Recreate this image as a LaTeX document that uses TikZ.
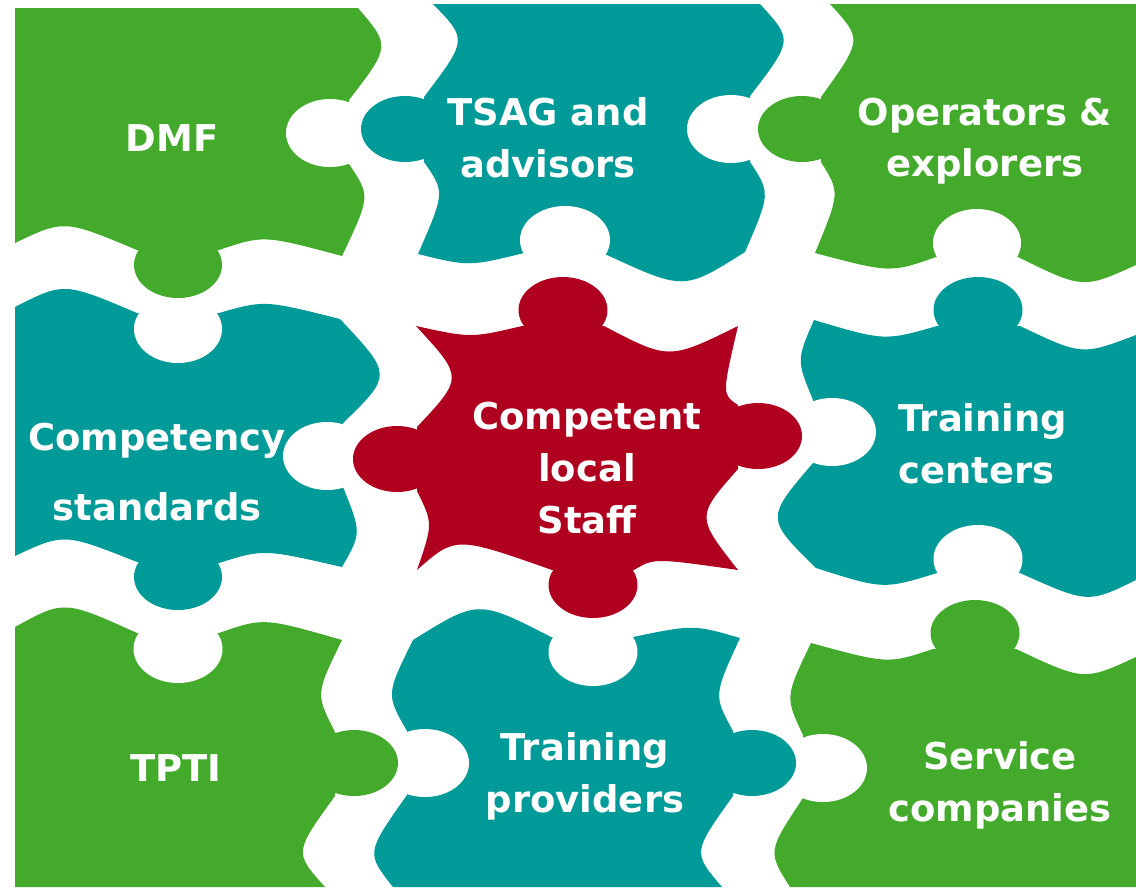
\documentclass[tikz,border=0pt]{standalone}
\usepackage{fontspec}
\setmainfont{DejaVu Sans}
\definecolor{gr}{HTML}{43AA2B}
\definecolor{tl}{HTML}{009A98}
\definecolor{re}{HTML}{B00020}
\begin{document}
\begin{tikzpicture}[x=0.01cm, y=-0.01cm,
  hole/.style={fill=white},
  lbl/.style={text=white, font=\bfseries\fontsize{10.5}{14.7}\selectfont, align=center, inner sep=0pt}]

  \fill[white] (0,0) rectangle (1136,887);
  \useasboundingbox (0,0) rectangle (1136,887);

  % top row
  \fill[gr] (15,8) -- (358,8) .. controls (390.5,46) .. (349,100) -- (349,164)
    .. controls (370.5,196) .. (342,256) .. controls (263.5,235) .. (219,250) -- (137,250)
    .. controls (64,219.5) .. (15,243) -- cycle;
  \fill[tl] (433,4) -- (760,4) .. controls (793,40) .. (750,96) -- (750,162)
    .. controls (770.5,193) .. (745,252) .. controls (684,290.5) .. (607,255) -- (524,253)
    .. controls (469,266.5) .. (418,254) .. controls (445,192) .. (424,162) -- (424,97)
    .. controls (467.5,39.5) .. (433,4) -- cycle;
  \fill[gr] (830,4) -- (1136,4) -- (1136,265) .. controls (1083,289) .. (1018,257) -- (936,257)
    .. controls (890.5,273) .. (815,253) .. controls (840,192.5) .. (821,162) -- (821,97)
    .. controls (862.5,39.5) .. (830,4) -- cycle;

  % middle row
  \fill[tl] (15,307) .. controls (64,282) .. (137,313) -- (219,313)
    .. controls (264.5,300) .. (340,319) .. controls (392.5,375) .. (343,423) -- (343,487)
    .. controls (361.5,533) .. (342,567) .. controls (263.5,549) .. (219,563) -- (137,562)
    .. controls (64,533) .. (15,556) -- cycle;
  \fill[re] (416,326) .. controls (471,338) .. (522,326) -- (604,326)
    .. controls (669,360) .. (738,326) .. controls (722,394.5) .. (738,405) -- (738,469)
    .. controls (696,516.5) .. (738,570) .. controls (654,558) .. (634,570) -- (552,570)
    .. controls (455.5,536) .. (417,570) .. controls (433,523.5) .. (417,491) -- (417,427)
    .. controls (463.5,377.5) .. (416,326) -- cycle;
  \fill[tl] (814,320) .. controls (884.5,341) .. (937,326) -- (1020,326)
    .. controls (1082,355.5) .. (1136,335) -- (1136,580) .. controls (1088,603.5) .. (1020,573)
    -- (937,573) .. controls (883.5,589.5) .. (816,568) .. controls (765.5,518.5) .. (813,463)
    -- (813,400) .. controls (796.5,360) .. (814,320) -- cycle;

  % bottom row
  \fill[gr] (15,627) .. controls (64,600) .. (137,633) -- (219,633)
    .. controls (263.5,617.5) .. (342,640) .. controls (315.5,694) .. (335,732) -- (335,796)
    .. controls (294,852.5) .. (325,887) -- (15,887) -- cycle;
  \fill[tl] (413,640) .. controls (478,599.5) .. (551,637) -- (633,637)
    .. controls (693.5,624.5) .. (740,638) .. controls (713.5,695.5) .. (733,731) -- (733,796)
    .. controls (692.5,852.5) .. (722,887) -- (393,887) .. controls (366,853) .. (407,795)
    -- (407,731) .. controls (386,694.5) .. (413,640) -- cycle;
  \fill[gr] (811,643) .. controls (888,664) .. (933,649) -- (1016,649)
    .. controls (1084,681) .. (1136,657) -- (1136,887) -- (790,887)
    .. controls (767.5,851.5) .. (803,798) -- (803,735) .. controls (785,697) .. (811,643) -- cycle;

  % sockets
  \fill[hole] (330,133) ellipse [x radius=44, y radius=34];
  \fill[hole] (565,240) ellipse [x radius=45, y radius=34];
  \fill[hole] (731,129) ellipse [x radius=44, y radius=34];
  \fill[hole] (977,243) ellipse [x radius=44, y radius=34];
  \fill[hole] (178,329) ellipse [x radius=44, y radius=34];
  \fill[hole] (327,456) ellipse [x radius=44, y radius=34];
  \fill[hole] (978,559) ellipse [x radius=44.5, y radius=34];
  \fill[hole] (832,432) ellipse [x radius=44, y radius=34];
  \fill[hole] (178,649) ellipse [x radius=44.5, y radius=34];
  \fill[hole] (593,652) ellipse [x radius=44.5, y radius=34];
  \fill[hole] (425,763) ellipse [x radius=44, y radius=34];
  \fill[hole] (823,768) ellipse [x radius=44, y radius=34];

  % knobs
  \fill[gr] (178,265) ellipse [x radius=44, y radius=33];
  \fill[tl] (405,129) ellipse [x radius=44, y radius=33];
  \fill[gr] (802,129) ellipse [x radius=44, y radius=33];
  \fill[tl] (178,577) ellipse [x radius=44, y radius=33];
  \fill[re] (563,310) ellipse [x radius=44.5, y radius=33];
  \fill[re] (758,436) ellipse [x radius=44, y radius=33];
  \fill[re] (593,585) ellipse [x radius=44.5, y radius=33];
  \fill[re] (397,459) ellipse [x radius=44, y radius=33];
  \fill[tl] (978,310) ellipse [x radius=44.5, y radius=33];
  \fill[gr] (354,763) ellipse [x radius=44, y radius=33];
  \fill[tl] (752,763) ellipse [x radius=44, y radius=33];
  \fill[gr] (975,633) ellipse [x radius=44.5, y radius=33];

  % labels
  \node[lbl] (dmf) at (172,138) {DMF};
  \node[lbl] (tsag) at (548,138) {TSAG and\\advisors};
  \node[lbl] (oper) at (985,141) {Operators \&\\explorers};
  \node[lbl, font=\bfseries\fontsize{10.5}{19.8}\selectfont] (comp) at (157,472) {Competency\\standards};
  \node[lbl] (staff) at (587,468) {Competent\\local\\Staff};
  \node[lbl, align=left, anchor=west] (centers) at (898,444) {Training\\centers};
  \node[lbl] (tpti) at (176,768) {TPTI};
  \node[lbl] (prov) at (585,776) {Training\\providers};
  \node[lbl] (serv) at (1000,785) {Service\\companies};

\end{tikzpicture}
\end{document}
